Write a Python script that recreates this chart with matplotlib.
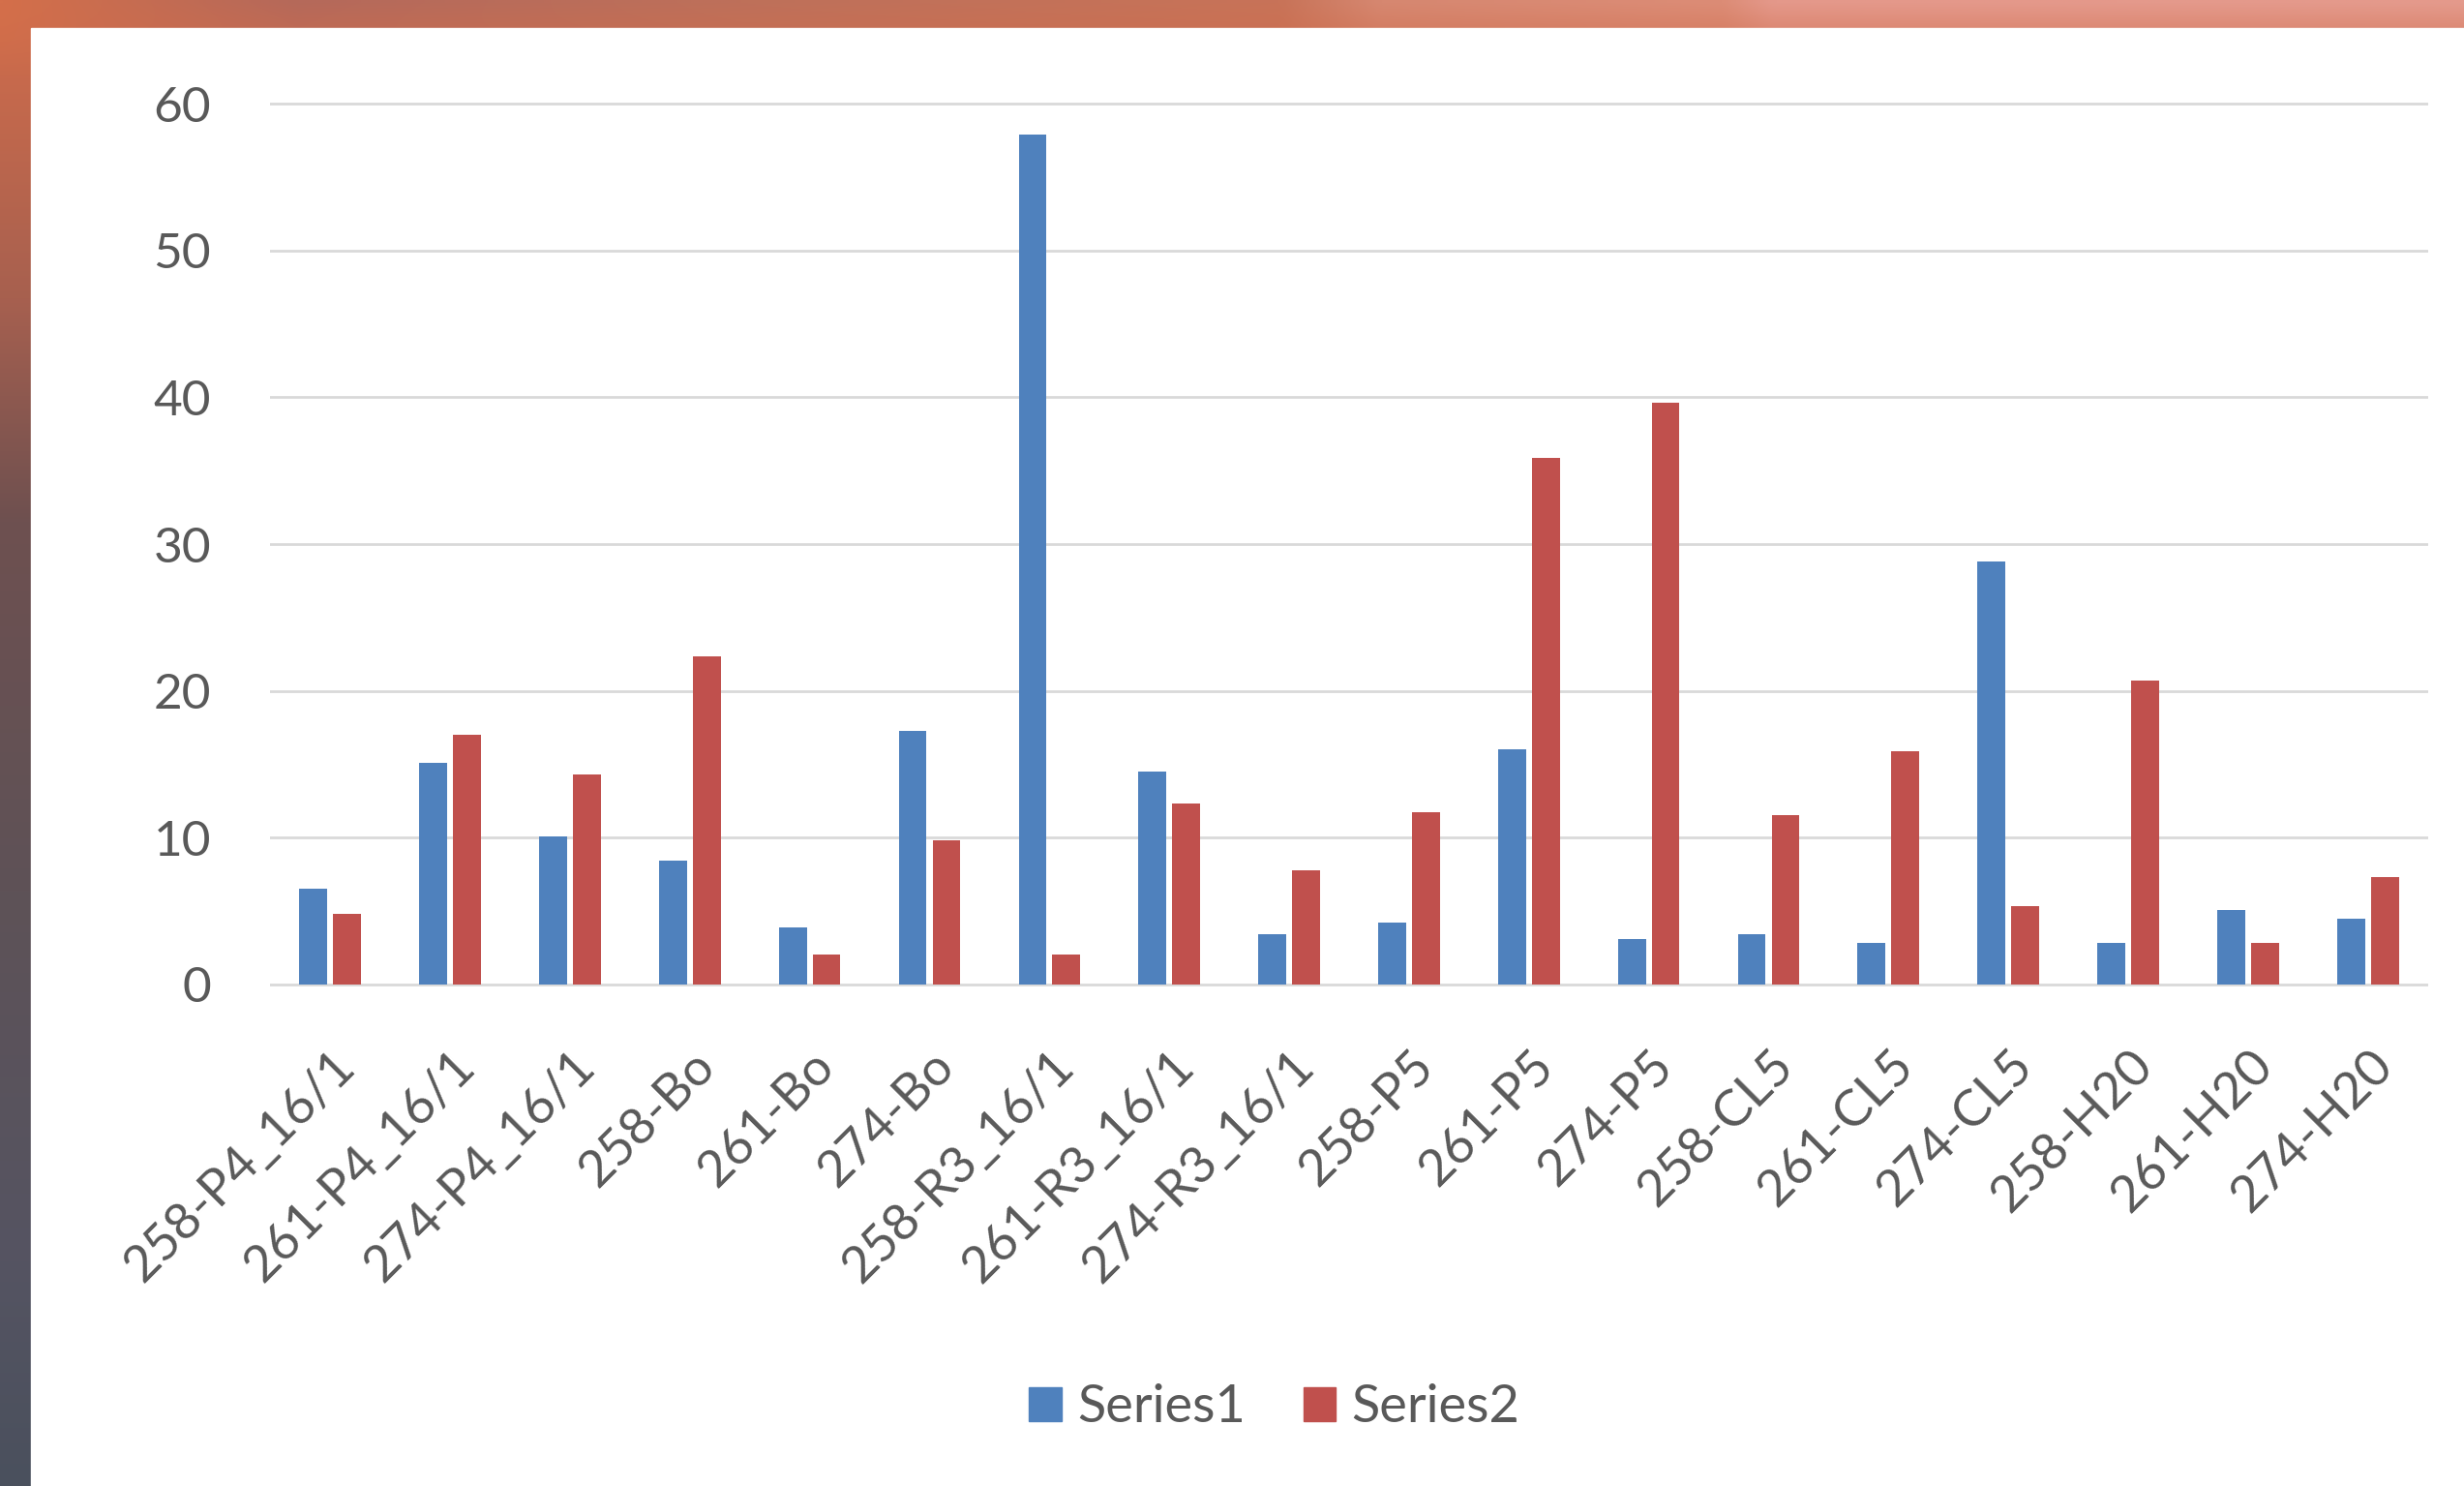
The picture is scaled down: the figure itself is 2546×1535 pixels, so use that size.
import numpy as np
import matplotlib.pyplot as plt
import matplotlib.transforms as mtransforms
from matplotlib.patches import Rectangle, Patch

# Dados do gráfico
categorias = ['258-P4_16/1', '261-P4_16/1', '274-P4_16/1', '258-Bo', '261-Bo', '274-Bo',
              '258-R3_16/1', '261-R3_16/1', '274-R3_16/1', '258-P5', '261-P5', '274-P5',
              '258-CL5', '261-CL5', '274-CL5', '258-H20', '261-H20', '274-H20']
series1 = [6.5, 15.1, 10.1, 8.4, 3.9, 17.3, 57.9, 14.5, 3.4, 4.2, 16.0, 3.1,
           3.4, 2.85, 28.8, 2.85, 5.05, 4.5]
series2 = [4.8, 17.0, 14.3, 22.35, 2.05, 9.8, 2.05, 12.3, 7.8, 11.7, 35.9, 39.6,
           11.5, 15.9, 5.3, 20.7, 2.85, 7.3]
nomes_series = ['Series1', 'Series2']
yticks = [0, 10, 20, 30, 40, 50, 60]

cor_azul = '#4f81bd'
cor_vermelho = '#c0504d'
cor_texto = '#595959'
cor_grade = '#d9d9d9'

W, H = 2546, 1535
fig = plt.figure(figsize=(W / 100, H / 100), dpi=100)

# Fundo (foto atrás do gráfico) - gradientes simples
bg = fig.add_axes([0, 0, 1, 1])
bg.set_axis_off()
nx, ny = 400, 300
xs = np.linspace(0, 1, nx)
ys = np.linspace(0, 1, ny)
stops_x = [0.0, 0.12, 0.3, 0.52, 0.56, 0.7, 0.72, 1.0]
cols_x = np.array([[212, 111, 74], [181, 105, 90], [190, 112, 90], [200, 115, 88],
                   [214, 135, 112], [220, 140, 118], [228, 152, 138], [228, 154, 140]]) / 255
stops_y = [0.0, 0.2, 0.35, 0.6, 0.85, 1.0]
cols_y = np.array([[210, 109, 75], [167, 96, 79], [110, 80, 80], [94, 82, 87],
                   [85, 84, 98], [74, 80, 93]]) / 255
img = np.zeros((ny, nx, 3))
for c in range(3):
    horiz = np.interp(xs, stops_x, cols_x[:, c])
    vert = np.interp(ys, stops_y, cols_y[:, c])
    t = np.clip(ys[:, None] / 0.05, 0, 1)
    img[:, :, c] = (1 - t) * horiz[None, :] + t * vert[:, None]
bg.imshow(img, extent=[0, 1, 0, 1], aspect='auto', origin='upper', interpolation='bilinear')
bg.set_xlim(0, 1)
bg.set_ylim(0, 1)
bg.add_patch(Rectangle((20 / 1568, 0), 1, 1 - 18 / 945, color='white', zorder=3))

# Eixo principal
zero_y = 1 - 626 / 945
escala = (626 - 66) / 945 / 60
ymin, ymax = -0.3, 60.3
ax = fig.add_axes([172 / 1568, zero_y + ymin * escala, (1545 - 172) / 1568, (ymax - ymin) * escala])
ax.set_facecolor('none')

x = np.arange(len(categorias))
largura = 0.232
desloc = 0.141
ax.bar(x - desloc, series1, largura, color=cor_azul, label=nomes_series[0], zorder=3)
ax.bar(x + desloc, series2, largura, color=cor_vermelho, label=nomes_series[1], zorder=3)

ax.set_xlim(-0.5, len(categorias) - 0.5)
ax.set_ylim(ymin, ymax)
ax.set_yticks(yticks)
ax.yaxis.grid(True, color=cor_grade, linewidth=2, zorder=0)
ax.set_axisbelow(True)
for s in ax.spines.values():
    s.set_visible(False)

ax.tick_params(axis='y', length=0, pad=44, labelsize=37, labelcolor=cor_texto)
ax.tick_params(axis='x', length=0, pad=52, labelsize=38, labelcolor=cor_texto)
for lab in ax.get_yticklabels():
    lab.set_fontfamily('Lato')
ax.set_xticks(x)
ax.set_xticklabels(categorias, rotation=45, ha='right', va='center', rotation_mode='anchor',
                   fontfamily='Lato')
desvio = mtransforms.ScaledTranslation(0.18, 0, fig.dpi_scale_trans)
for lab in ax.get_xticklabels():
    lab.set_transform(lab.get_transform() + desvio)

# Legenda
handles = [Patch(color=cor_azul), Patch(color=cor_vermelho)]
fig.legend(handles, nomes_series, loc='center', bbox_to_anchor=(811 / 1568, 1 - 895 / 945),
           ncol=2, frameon=False, prop={'family': 'Lato', 'size': 39},
           labelcolor=cor_texto, handlelength=0.62, handleheight=0.62,
           handletextpad=0.3, columnspacing=1.1)

fig.savefig('out.png', dpi=100)
